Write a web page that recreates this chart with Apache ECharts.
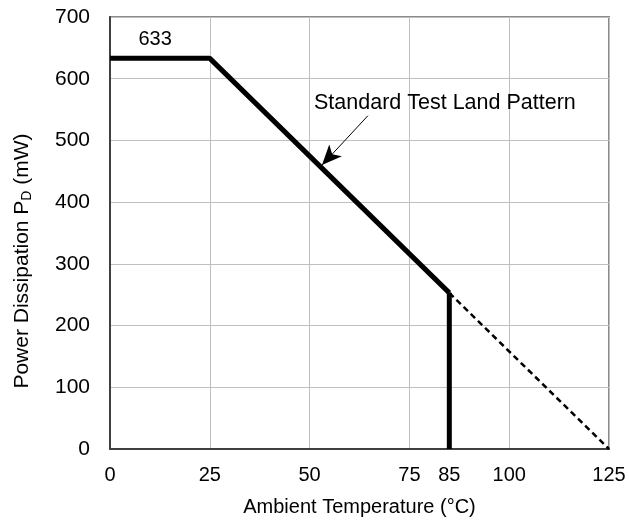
<!DOCTYPE html>
<html>
<head>
<meta charset="utf-8">
<script src="https://cdn.jsdelivr.net/npm/echarts@6/dist/echarts.min.js"></script>
<style>
  html, body { margin: 0; padding: 0; background: #fff; }
  #chart { width: 629px; height: 522px; }
</style>
</head>
<body>
<div id="chart"></div>
<script>
// 降额曲线数据
const temps = [0, 25, 85];
const power = [633, 633, 253];
const dashTemps = [85, 125];
const dashPower = [253, 0];
const cutTemps = [85, 85];
const cutPower = [253, 0];
const xTicks = [0, 25, 50, 75, 85, 100, 125];

const chart = echarts.init(document.getElementById('chart'));
const font = 'Liberation Sans, Arial, sans-serif';

chart.setOption({
  animation: false,
  textStyle: { fontFamily: font },
  grid: {
    left: 110, right: 20, top: 17, bottom: 73,
    show: true, borderColor: '#8a8a8a', borderWidth: 2
  },
  xAxis: {
    type: 'value', min: 0, max: 125, interval: 25,
    name: 'Ambient Temperature (°C)',
    nameLocation: 'middle', nameGap: 48,
    nameTextStyle: { fontSize: 20, color: '#000', fontFamily: font },
    axisLine: { show: true, lineStyle: { color: '#404040', width: 2 } },
    axisTick: { show: false },
    splitLine: { lineStyle: { color: '#c0c0c0', width: 1 } },
    axisLabel: {
      customValues: xTicks,
      margin: 16, fontSize: 20, color: '#000', fontFamily: font,
      formatter: v => v === 85 ? '{up|85}' : String(v),
      rich: { up: { fontSize: 20, color: '#000', fontFamily: font, padding: [0, 0, 8, 0] } }
    }
  },
  yAxis: {
    type: 'value', min: 0, max: 700, interval: 100,
    name: 'Power Dissipation P{sub|D} (mW)',
    nameLocation: 'middle', nameGap: 76,
    nameTextStyle: {
      fontSize: 21, color: '#000', fontFamily: font,
      padding: [0, 56, 0, 0],
      rich: { sub: { fontSize: 14, color: '#000', fontFamily: font, padding: [10, 0, 0, 0] } }
    },
    axisLine: { show: true, lineStyle: { color: '#404040', width: 2 } },
    axisTick: { show: false },
    splitLine: { lineStyle: { color: '#c0c0c0', width: 1 } },
    axisLabel: { margin: 20, fontSize: 21, color: '#000', fontFamily: font }
  },
  series: [
    {
      type: 'line',
      data: temps.map((t, i) => [t, power[i]]),
      symbol: 'none',
      lineStyle: { color: '#000', width: 5 },
      z: 5,
      markPoint: {
        symbol: 'circle', symbolSize: 0,
        data: [
          { coord: [11.3, 664], label: { show: true, formatter: '633', fontSize: 20, color: '#000', fontFamily: font } },
          { coord: [51.1, 561], label: { show: true, formatter: 'Standard Test Land Pattern', position: 'right', distance: 0, fontSize: 21.5, color: '#000', fontFamily: font } }
        ]
      },
      markLine: {
        silent: true,
        symbol: ['none', 'arrow'],
        symbolSize: [13, 20],
        label: { show: false },
        lineStyle: { color: '#000', width: 1, type: 'solid' },
        data: [[{ coord: [64.6, 540] }, { coord: [53.1, 460] }]]
      }
    },
    {
      type: 'line',
      data: cutTemps.map((t, i) => [t, cutPower[i]]),
      symbol: 'none',
      lineStyle: { color: '#000', width: 5 },
      z: 5
    },
    {
      type: 'line',
      data: dashTemps.map((t, i) => [t, dashPower[i]]),
      symbol: 'none',
      lineStyle: { color: '#000', width: 2.5, type: [6, 4] },
      z: 4
    }
  ]
});
</script>
</body>
</html>
